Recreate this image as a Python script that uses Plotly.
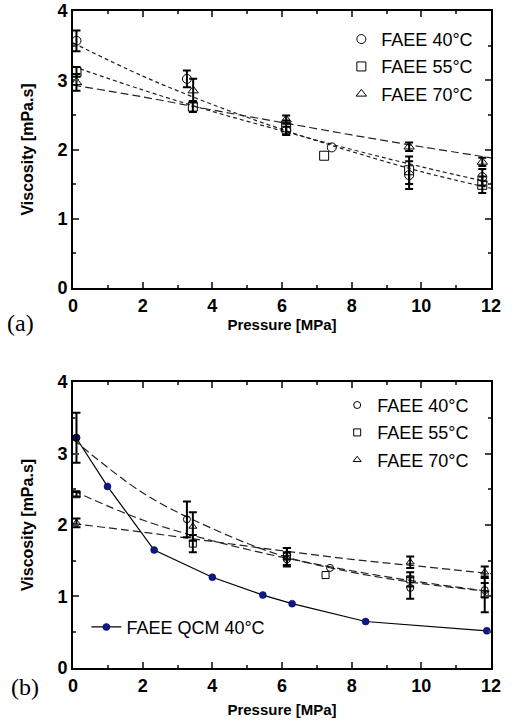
import plotly.graph_objects as go

# ---- panel (a) measured viscosity ----
a40_x = [0.1, 3.27, 6.12, 9.65, 11.75]
a40_y = [3.57, 3.02, 2.27, 1.63, 1.60]
a40_e = [0.15, 0.12, 0.06, 0.2, 0.12]
a55_x = [0.1, 3.44, 6.12, 9.65, 11.75]
a55_y = [3.12, 2.62, 2.32, 1.70, 1.49]
a55_e = [0.07, 0.08, 0.1, 0.2, 0.12]
a70_x = [0.1, 3.45, 6.12, 9.65, 11.75]
a70_y = [2.97, 2.85, 2.43, 2.04, 1.82]
a70_e = [0.12, 0.17, 0.06, 0.06, 0.06]
# points with no error bar
a40_single = ([7.43], [2.03])
a55_single = ([7.21], [1.91])

# dashed fits, read at 0,2,...,12 MPa
fit_x = [0, 2, 4, 6, 8, 10, 12]
a40_fit = [3.54, 3.06, 2.65, 2.29, 1.97, 1.68, 1.44]
a55_fit = [3.20, 2.86, 2.55, 2.27, 2.00, 1.75, 1.52]
a70_fit = [2.93, 2.76, 2.57, 2.39, 2.21, 2.04, 1.88]

# ---- panel (b) ----
b40_x = [0.1, 3.27, 6.14, 9.68, 11.82]
b40_y = [3.22, 2.08, 1.52, 1.12, 1.09]
b40_e = [0.35, 0.25, 0.1, 0.15, 0.1]
b55_x = [0.1, 3.44, 6.14, 9.68, 11.82]
b55_y = [2.43, 1.74, 1.56, 1.24, 1.03]
b55_e = [0.03, 0.12, 0.12, 0.1, 0.25]
b70_x = [0.1, 3.44, 6.14, 9.68, 11.82]
b70_y = [2.03, 1.98, 1.60, 1.48, 1.34]
b70_e = [0.06, 0.2, 0.08, 0.08, 0.08]
b40_single = ([7.38], [1.40])
b55_single = ([7.25], [1.30])

b40_fit = [3.20, 2.45, 1.95, 1.57, 1.34, 1.18, 1.07]
b55_fit = [2.48, 2.07, 1.78, 1.55, 1.36, 1.20, 1.07]
b70_fit = [2.02, 1.90, 1.77, 1.64, 1.52, 1.42, 1.32]

qcm_x = [0.09, 0.99, 2.33, 4.0, 5.45, 6.29, 8.40, 11.88]
qcm_y = [3.22, 2.54, 1.65, 1.27, 1.02, 0.90, 0.65, 0.52]

labels = ["FAEE 40°C", "FAEE 55°C", "FAEE 70°C"]
symbols = ["circle-open", "square-open", "triangle-up-open"]

FONT = "Liberation Sans, Arial, sans-serif"
fig = go.Figure()

def fit(x, y, xa, ya, dash):
    fig.add_trace(go.Scatter(x=x, y=y, mode="lines", xaxis=xa, yaxis=ya, showlegend=False,
                             line=dict(color="#222", width=1.2, dash=dash, shape="spline")))

fit(fit_x, a40_fit, "x", "y", "4px,3px")
fit(fit_x, a55_fit, "x", "y", "4px,3px")
fit(fit_x, a70_fit, "x", "y", "8px,4px")
fit(fit_x, b40_fit, "x2", "y2", "8px,4px")
fit(fit_x, b55_fit, "x2", "y2", "8px,4px")
fit(fit_x, b70_fit, "x2", "y2", "8px,4px")

fig.add_trace(go.Scatter(x=qcm_x, y=qcm_y, mode="lines+markers", name="FAEE QCM 40°C",
                         xaxis="x2", yaxis="y2", legend="legend3",
                         line=dict(color="black", width=1.2),
                         marker=dict(color="#0b1a8a", size=7, line=dict(color="#000040", width=0.5))))

def series(x, y, e, xa, ya, sym, name, leg, size):
    fig.add_trace(go.Scatter(x=x, y=y, mode="markers", name=name, xaxis=xa, yaxis=ya,
                             legend=leg, legendgroup=leg + name,
                             marker=dict(symbol=sym, size=size, color="black", line=dict(width=1)),
                             error_y=dict(type="data", array=e, color="black", thickness=2, width=4)))

for x, y, e, s, n in zip([a40_x, a55_x, a70_x], [a40_y, a55_y, a70_y], [a40_e, a55_e, a70_e], symbols, labels):
    series(x, y, e, "x", "y", s, n, "legend", 9)
for x, y, e, s, n in zip([b40_x, b55_x, b70_x], [b40_y, b55_y, b70_y], [b40_e, b55_e, b70_e], symbols, labels):
    series(x, y, e, "x2", "y2", s, n, "legend2", 7)

for (x, y), s, xa, ya, sz in [(a40_single, symbols[0], "x", "y", 9), (a55_single, symbols[1], "x", "y", 9),
                              (b40_single, symbols[0], "x2", "y2", 7), (b55_single, symbols[1], "x2", "y2", 7)]:
    fig.add_trace(go.Scatter(x=x, y=y, mode="markers", xaxis=xa, yaxis=ya, showlegend=False,
                             marker=dict(symbol=s, size=sz, color="black", line=dict(width=1))))

xax = dict(range=[0, 12], dtick=2, ticks="inside", ticklen=6, tickwidth=1.5, mirror="ticks",
           showline=True, linewidth=2, linecolor="black", showgrid=False, zeroline=False,
           automargin=False,
           minor=dict(dtick=1, ticks="inside", ticklen=3, tickwidth=1.5),
           tickfont=dict(family=FONT, size=18, color="black", weight="bold"),
           title=dict(text="<b>Pressure [MPa]</b>", font=dict(family=FONT, size=15, color="black"), standoff=4))
yax = dict(range=[0, 4], dtick=1, ticks="inside", ticklen=6, tickwidth=1.5, mirror="ticks",
           showline=True, linewidth=2, linecolor="black", showgrid=False, zeroline=False,
           automargin=False,
           minor=dict(dtick=0.5, ticks="inside", ticklen=3, tickwidth=1.5),
           tickfont=dict(family=FONT, size=18, color="black", weight="bold"),
           title=dict(text="<b>Viscosity [mPa.s]</b>", font=dict(family=FONT, size=16, color="black"), standoff=20))

leg = dict(bgcolor="rgba(0,0,0,0)", font=dict(family=FONT, size=18, color="black"),
           tracegroupgap=1, traceorder="grouped", xanchor="left", yanchor="top")

fig.update_layout(
    width=513, height=724, plot_bgcolor="white", paper_bgcolor="white",
    margin=dict(l=73, r=22, t=11, b=56),
    xaxis=dict(xax, domain=[0, 1], anchor="y"),
    yaxis=dict(yax, domain=[0.5784, 1], anchor="x"),
    xaxis2=dict(xax, domain=[0, 1], anchor="y2", title=dict(xax["title"], standoff=10)),
    yaxis2=dict(yax, domain=[0, 0.4353], anchor="x2"),
    legend=dict(leg, x=0.642, y=0.985),
    legend2=dict(leg, x=0.632, y=0.428),
    legend3=dict(leg, x=0.032, y=0.062, yanchor="middle"),
    annotations=[
        dict(text="(a)", xref="paper", yref="paper", x=-0.163, y=0.525, showarrow=False,
             font=dict(family="Liberation Serif, Times New Roman, serif", size=24, color="black")),
        dict(text="(b)", xref="paper", yref="paper", x=-0.154, y=-0.052, showarrow=False,
             font=dict(family="Liberation Serif, Times New Roman, serif", size=24, color="black")),
    ],
)

fig.write_html("out.html", config={"displayModeBar": False},
               post_script="document.body.style.margin='0';")
